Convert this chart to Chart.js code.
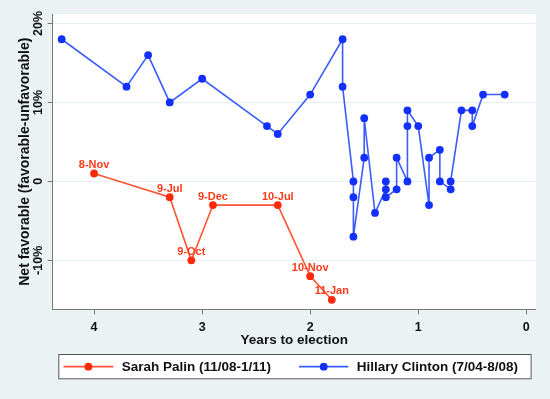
<!DOCTYPE html>
<html><head><meta charset="utf-8">
<script src="https://cdn.jsdelivr.net/npm/chart.js@4.4.1/dist/chart.umd.min.js"></script>
<style>html,body{margin:0;padding:0;background:#eaf2f3;}#wrap{width:550px;height:399px;}</style>
</head><body><div id="wrap"><canvas id="c" width="550" height="399"></canvas></div>
<script>
// ---- data ----
const palinYears  = [4.0, 3.3, 3.1, 2.9, 2.3, 2.0, 1.8];
const palinNet    = [1, -2, -10, -3, -3, -12, -15];
const palinLabels = ['8-Nov', '9-Jul', '9-Oct', '9-Dec', '10-Jul', '10-Nov', '11-Jan'];

const clintonYears = [4.3, 3.7, 3.5, 3.3, 3.0, 2.4, 2.3, 2.0, 1.7, 1.7, 1.6, 1.6, 1.6, 1.5, 1.5, 1.4,
                      1.3, 1.3, 1.3, 1.2, 1.2, 1.1, 1.1, 1.1, 1.0, 0.9, 0.9, 0.8, 0.8, 0.7, 0.7, 0.6,
                      0.5, 0.5, 0.4, 0.2];
const clintonNet   = [18, 12, 16, 10, 13, 7, 6, 11, 18, 12, 0, -2, -7, 3, 8, -4,
                      -1, 0, -2, -1, 3, 0, 7, 9, 7, -3, 3, 4, 0, -1, 0, 9,
                      9, 7, 11, 11];

const seriesNames = ['Sarah Palin (11/08-1/11)', 'Hillary Clinton (7/04-8/08)'];
const xTicks = [4, 3, 2, 1, 0];
const yTicks = [-10, 0, 10, 20];
const yTickLabels = ['-10%', '0', '10%', '20%'];

const FONT = '"Liberation Sans", Arial, Helvetica, sans-serif';
const RED_LINE = '#ff5436', RED_PT = '#ff2a0c';
const BLUE_LINE = '#3d5cff', BLUE_PT = '#1230ff';
const BG = '#eaf2f3';

const pts = (xs, ys) => xs.map((x, i) => ({x: x, y: ys[i]}));

const bgPlugin = {
  id: 'bg',
  beforeDraw(chart) {
    const {ctx, chartArea: a} = chart;
    ctx.save();
    ctx.fillStyle = BG;
    ctx.fillRect(0, 0, chart.width, chart.height);
    ctx.fillStyle = '#ffffff';
    ctx.fillRect(a.left, a.top, a.right - a.left, a.bottom - a.top);
    ctx.restore();
  }
};

const labelPlugin = {
  id: 'pointLabels',
  afterDatasetsDraw(chart) {
    const ctx = chart.ctx;
    const meta = chart.getDatasetMeta(0);
    ctx.save();
    ctx.font = 'bold 11px ' + FONT;
    ctx.fillStyle = '#ff3a1a';
    ctx.textAlign = 'center';
    ctx.textBaseline = 'middle';
    meta.data.forEach((el, i) => {
      ctx.fillText(palinLabels[i], el.x, el.y - 8.5);
    });
    ctx.restore();
  }
};

const legendPlugin = {
  id: 'boxLegend',
  afterDraw(chart) {
    const ctx = chart.ctx;
    const L = 58.3, T = 354, R = 531.6, B = 379.3;
    ctx.save();
    ctx.fillStyle = '#ffffff';
    ctx.fillRect(L, T, R - L, B - T);
    ctx.strokeStyle = '#555';
    ctx.lineWidth = 1;
    ctx.strokeRect(L + 0.5, T + 0.5, R - L - 1, B - T - 1);
    const cy = (T + B) / 2;
    const items = [
      {x0: 63.5, x1: 113.3, tx: 121.7, line: RED_LINE, pt: RED_PT},
      {x0: 299, x1: 348.4, tx: 356.8, line: BLUE_LINE, pt: BLUE_PT}
    ];
    items.forEach((it, i) => {
      ctx.strokeStyle = it.line;
      ctx.lineWidth = 1.6;
      ctx.beginPath(); ctx.moveTo(it.x0, cy); ctx.lineTo(it.x1, cy); ctx.stroke();
      ctx.fillStyle = it.pt;
      ctx.beginPath(); ctx.arc((it.x0 + it.x1) / 2, cy, 3.9, 0, Math.PI * 2); ctx.fill();
      ctx.fillStyle = '#111';
      ctx.font = 'bold 13.5px ' + FONT;
      ctx.textAlign = 'left';
      ctx.textBaseline = 'middle';
      ctx.fillText(chart.data.datasets[i].label, it.tx, cy + 0.5);
    });
    ctx.restore();
  }
};

new Chart(document.getElementById('c'), {
  type: 'scatter',
  data: {
    datasets: [
      {
        label: seriesNames[0],
        data: pts(palinYears, palinNet),
        showLine: true,
        borderColor: RED_LINE,
        borderWidth: 1.6,
        backgroundColor: RED_PT,
        pointBackgroundColor: RED_PT,
        pointBorderWidth: 0,
        pointRadius: 3.9,
        tension: 0
      },
      {
        label: seriesNames[1],
        data: pts(clintonYears, clintonNet),
        showLine: true,
        borderColor: BLUE_LINE,
        borderWidth: 1.6,
        backgroundColor: BLUE_PT,
        pointBackgroundColor: BLUE_PT,
        pointBorderWidth: 0,
        pointRadius: 3.9,
        tension: 0
      }
    ]
  },
  options: {
    responsive: false,
    animation: false,
    devicePixelRatio: 1,
    layout: {padding: {left: 0, right: 14.2, top: 14, bottom: 0}},
    plugins: {legend: {display: false}, tooltip: {enabled: false}},
    scales: {
      x: {
        type: 'linear',
        reverse: true,
        min: -0.088,
        max: 4.383,
        afterBuildTicks: s => { s.ticks = xTicks.map(v => ({value: v})); },
        afterFit: s => { s.height = 89.7; },
        ticks: {
          font: {family: FONT, size: 12.5, weight: 'bold'},
          color: '#111',
          padding: 6,
          maxRotation: 0,
          callback: v => String(v)
        },
        grid: {display: true, drawOnChartArea: false, drawTicks: true, tickLength: 5, tickColor: '#777', tickWidth: 1},
        border: {display: true, color: '#777', width: 1},
        title: {
          display: true,
          text: 'Years to election',
          font: {family: FONT, size: 13.5, weight: 'bold'},
          color: '#111',
          padding: {top: 0, bottom: 50.2}
        }
      },
      y: {
        type: 'linear',
        min: -16.2,
        max: 21.2,
        afterBuildTicks: s => { s.ticks = yTicks.map(v => ({value: v})); },
        afterFit: s => { s.width = 52.7; },
        ticks: {
          font: {family: FONT, size: 12.5, weight: 'bold'},
          color: '#111',
          minRotation: 90,
          maxRotation: 90,
          crossAlign: 'center',
          padding: -5.5,
          callback: v => yTickLabels[yTicks.indexOf(v)]
        },
        grid: {color: '#e5eef0', lineWidth: 1, drawTicks: true, tickLength: 5, tickColor: '#777', tickWidth: 1},
        border: {display: true, color: '#777', width: 1},
        title: {
          display: true,
          text: 'Net favorable (favorable-unfavorable)',
          font: {family: FONT, size: 14, weight: 'bold'},
          color: '#111',
          padding: {top: 16.5, bottom: 0}
        }
      }
    }
  },
  plugins: [bgPlugin, labelPlugin, legendPlugin]
});
</script>
</body></html>
